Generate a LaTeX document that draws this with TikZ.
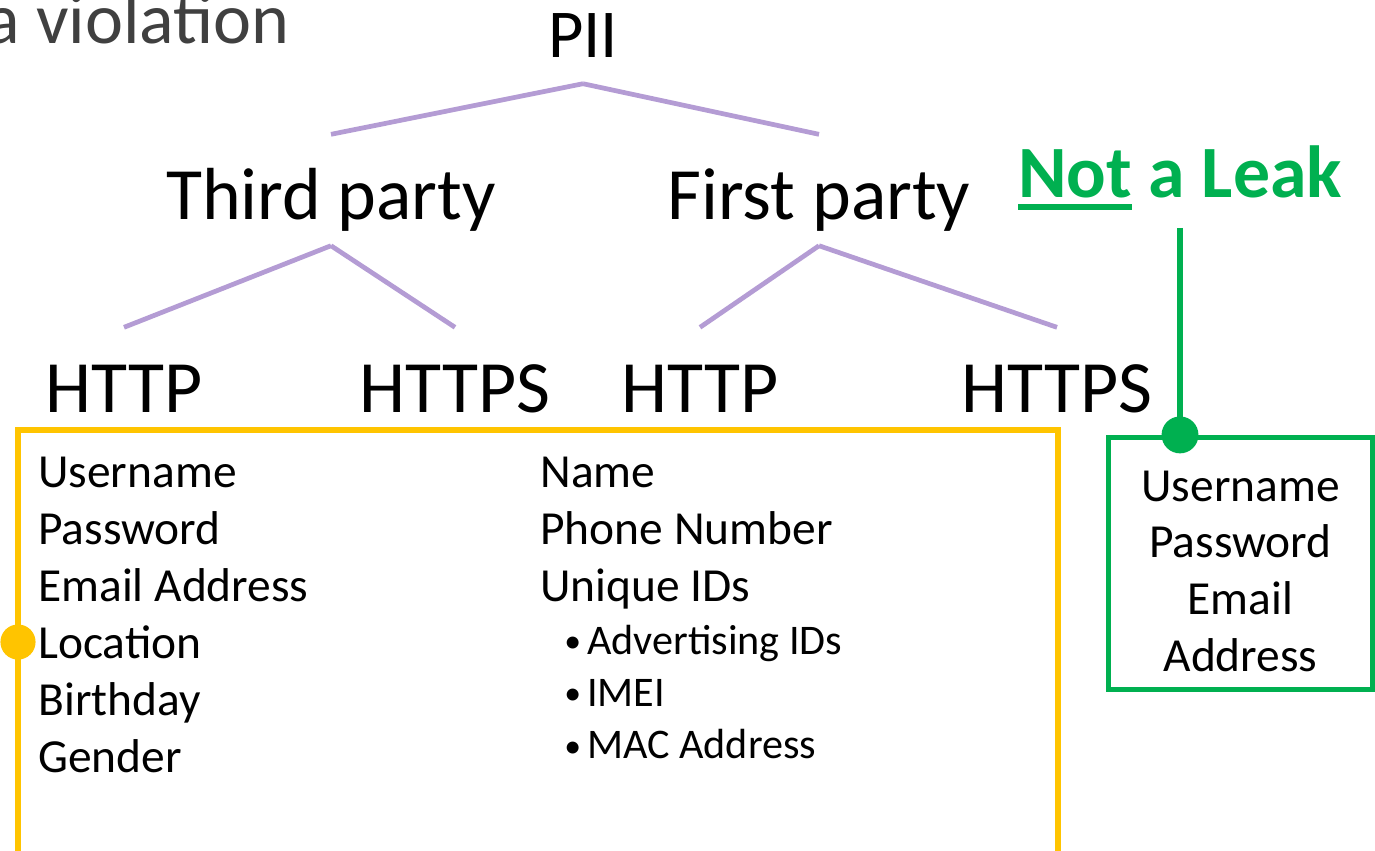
\documentclass[tikz,border=0pt]{standalone}
\usepackage{fontspec}
\setmainfont{Carlito}
\usepackage{tikz}

\definecolor{branchpurple}{RGB}{180,156,212}
\definecolor{leakyellow}{RGB}{255,196,0}
\definecolor{okgreen}{RGB}{0,176,80}
\definecolor{slidegrey}{RGB}{64,64,64}

% thick underline as on the slide
\newcommand{\thickul}[1]{\setbox0\hbox{#1}\rlap{\rule[-7.4pt]{\wd0}{3.4pt}}\box0\relax}

\begin{document}
\begin{tikzpicture}[x=0.02cm, y=-0.02cm,
  lvl/.style={inner sep=0pt, anchor=base, text height=48pt, text depth=15pt,
    font=\fontsize{42}{50}\selectfont},
  branch/.style={branchpurple, line width=2.7pt},
  item/.style={inner sep=0pt, anchor=base west, font=\fontsize{27}{32}\selectfont},
  subitem/.style={inner sep=0pt, anchor=base west, font=\fontsize{24}{29}\selectfont}]
\clip (0,0) rectangle (1375,850);

% leftover title from the slide
\node[inner sep=0pt, anchor=base east, text=slidegrey, font=\fontsize{41}{49}\selectfont] (viol) at (290,43) {a violation};

% tree
\node[lvl, font=\fontsize{39}{47}\selectfont] (pii) at (583,57) {PII};
\node[lvl] (third) at (331,219) {Third party};
\node[lvl] (first) at (819,219) {First party};
\node[lvl] (tphttp) at (124,412) {HTTP};
\node[lvl] (tphttps) at (455,412) {HTTPS};
\node[lvl] (fphttp) at (700,412) {HTTP};
\node[lvl] (fphttps) at (1057,412) {HTTPS};

\draw[branch] (pii.south) -- (third.north);
\draw[branch] (pii.south) -- (first.north);
\draw[branch] (third.south) -- (tphttp.north);
\draw[branch] (third.south) -- (tphttps.north);
\draw[branch] (first.south) -- (fphttp.north);
\draw[branch] (first.south) -- (fphttps.north);

% leaks
\draw[leakyellow, line width=3pt] (18,880) |- (1058,430) -- (1058,880);
\fill[leakyellow] (18,642) circle (10pt);

\foreach \t [count=\i] in {Username,Password,Email Address,Location,Birthday,Gender}
  \node[item] (tp\i) at (38,{430+57*\i}) {\t};
\foreach \t [count=\i] in {Name,Phone Number,Unique IDs}
  \node[item] (fp\i) at (540,{430+57*\i}) {\t};
\foreach \t [count=\i] in {Advertising IDs,IMEI,MAC Address}
  \node[subitem] (uid\i) at (564,{602+52.3*\i}) {\makebox[13pt][l]{\raisebox{1pt}{\scalebox{0.8}{\textbullet}}}\t};

% not a leak
\node[inner sep=0pt, anchor=base, text=okgreen, font=\fontsize{42}{50}\selectfont\bfseries] (notleak) at (1180,197) {\thickul{Not} a Leak};
\node[draw=okgreen, line width=3pt, minimum width=150pt, minimum height=143.4pt,
  align=center, font=\fontsize{27}{32.3}\selectfont] (safebox) at (1240.5,563.5)
  {\rule{0pt}{26pt}Username\\Password\\Email\\Address};
\draw[okgreen, line width=3.2pt, shorten <=10pt] (notleak.south) -- (notleak.south |- safebox.north);
\fill[okgreen] (notleak.south |- safebox.north) circle (10.5pt);
\end{tikzpicture}
\end{document}
